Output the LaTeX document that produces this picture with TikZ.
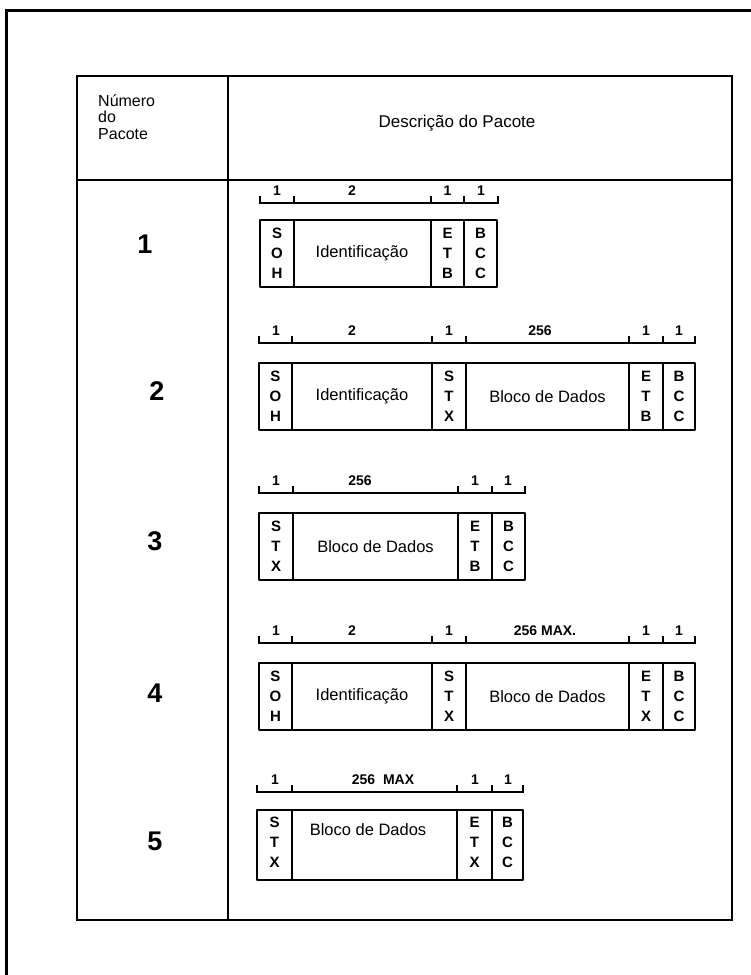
\documentclass[tikz,border=0pt]{standalone}
\usepackage{fontspec}
\setmainfont{Liberation Sans}

\tikzset{
  quadro/.style={line width=1.6pt},
  pacote/.style={line width=2.6pt, line join=round},
  escala/.style={line width=1.8pt},
  sigla/.style={font=\fontsize{15}{20}\selectfont\bfseries, align=center, inner sep=0pt},
  campo/.style={font=\fontsize{16.5}{18}\selectfont, inner sep=0pt},
  rotulo/.style={font=\fontsize{14}{16}\selectfont\bfseries, inner sep=0pt},
  numero/.style={font=\fontsize{27}{30}\selectfont\bfseries, inner sep=0pt},
}

\begin{document}
\begin{tikzpicture}[x=1pt,y=-1pt]
  \useasboundingbox (0,0) rectangle (751,975);
  % moldura
  \draw[line width=3pt] (6,975) -- (6,10) -- (751,10);
  % tabela
  \draw[quadro] (77,76) rectangle (732,920);
  \draw[quadro] (77,180) -- (732,180);
  \draw[quadro] (228,76) -- (228,920);
  \node[campo, anchor=west, align=left, font=\fontsize{16}{16.5}\selectfont] (numcab) at (98,117) {Número\\do\\Pacote};
  \node[campo, font=\fontsize{17}{18}\selectfont] (desccab) at (457,123) {Descrição do Pacote};
  \foreach \n/\x/\y in {1/145/244, 2/157/391, 3/155/541, 4/155/693, 5/155/841}
    \node[numero] (num\n) at (\x,\y) {\n};

  % pacote 1
  \draw[escala] (260,196) |- (498,203) -- (498,196);
  \foreach \x in {294,431,464} \draw[escala] (\x,203) -- (\x,196);
  \foreach \t/\x [count=\i] in {1/277, 2/352, 1/447.5, 1/481}
    \node[rotulo] (e1\i) at (\x,191) {\t};
  \draw[pacote] (260,220) rectangle (497,287);
  \foreach \x in {294,431,464} \draw[pacote] (\x,220) -- (\x,287);
  \node[sigla] (soh1) at (277,253.5) {S\\O\\H};
  \node[campo] (id1) at (362,253.5) {Identificação};
  \node[sigla] (etb1) at (447.5,253.5) {E\\T\\B};
  \node[sigla] (bcc1) at (480.5,253.5) {B\\C\\C};

  % pacote 2
  \draw[escala] (259,336) |- (695,343) -- (695,336);
  \foreach \x in {292,432,466,629,663} \draw[escala] (\x,343) -- (\x,336);
  \foreach \t/\x [count=\i] in {1/276, 2/352, 1/449, 256/540, 1/646, 1/679}
    \node[rotulo] (e2\i) at (\x,331) {\t};
  \draw[pacote] (259,363) rectangle (695,430);
  \foreach \x in {292,432,466,629,663} \draw[pacote] (\x,363) -- (\x,430);
  \node[sigla] (soh2) at (275.5,396.5) {S\\O\\H};
  \node[campo] (id2) at (362,396.5) {Identificação};
  \node[sigla] (stx2) at (449,396.5) {S\\T\\X};
  \node[campo] (dados2) at (547.5,396.5) {Bloco de Dados};
  \node[sigla] (etb2) at (646,396.5) {E\\T\\B};
  \node[sigla] (bcc2) at (679,396.5) {B\\C\\C};

  % pacote 3
  \draw[escala] (259,486) |- (525,493) -- (525,486);
  \foreach \x in {293,458,492} \draw[escala] (\x,493) -- (\x,486);
  \foreach \t/\x [count=\i] in {1/276, 256/360, 1/475, 1/508}
    \node[rotulo] (e3\i) at (\x,481) {\t};
  \draw[pacote] (259,513) rectangle (525,580);
  \foreach \x in {293,458,492} \draw[pacote] (\x,513) -- (\x,580);
  \node[sigla] (stx3) at (276,546.5) {S\\T\\X};
  \node[campo] (dados3) at (375.5,546.5) {Bloco de Dados};
  \node[sigla] (etb3) at (475,546.5) {E\\T\\B};
  \node[sigla] (bcc3) at (508.5,546.5) {B\\C\\C};

  % pacote 4
  \draw[escala] (259,636) |- (695,643) -- (695,636);
  \foreach \x in {292,432,466,629,663} \draw[escala] (\x,643) -- (\x,636);
  \foreach \t/\x [count=\i] in {1/276, 2/352, 1/449, 256 MAX./545, 1/646, 1/679}
    \node[rotulo] (e4\i) at (\x,631) {\t};
  \draw[pacote] (259,663) rectangle (695,730);
  \foreach \x in {292,432,466,629,663} \draw[pacote] (\x,663) -- (\x,730);
  \node[sigla] (soh4) at (275.5,696.5) {S\\O\\H};
  \node[campo] (id4) at (362,696.5) {Identificação};
  \node[sigla] (stx4) at (449,696.5) {S\\T\\X};
  \node[campo] (dados4) at (547.5,696.5) {Bloco de Dados};
  \node[sigla] (etx4) at (646,696.5) {E\\T\\X};
  \node[sigla] (bcc4) at (679,696.5) {B\\C\\C};

  % pacote 5
  \draw[escala] (257,785) |- (523,792) -- (523,785);
  \foreach \x in {292,457,492} \draw[escala] (\x,792) -- (\x,785);
  \foreach \t/\x [count=\i] in {1/275, 256\ \ MAX/383, 1/475, 1/508}
    \node[rotulo] (e5\i) at (\x,780) {\t};
  \draw[pacote] (257,810) rectangle (523,880);
  \foreach \x in {292,457,492} \draw[pacote] (\x,810) -- (\x,880);
  \node[sigla] (stx5) at (274.5,842) {S\\T\\X};
  \node[campo] (dados5) at (368,830) {Bloco de Dados};
  \node[sigla] (etx5) at (474.5,842) {E\\T\\X};
  \node[sigla] (bcc5) at (507.5,842) {B\\C\\C};
\end{tikzpicture}
\end{document}
